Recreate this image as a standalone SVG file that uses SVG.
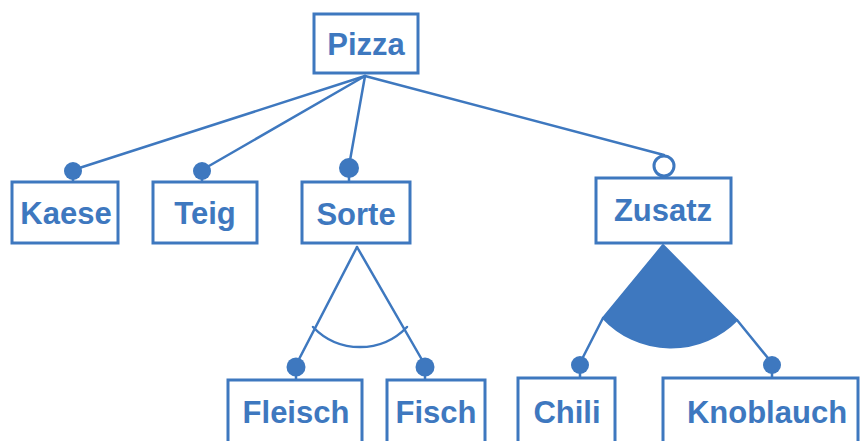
<svg xmlns="http://www.w3.org/2000/svg" width="861" height="441" viewBox="0 0 861 441">
  <style>
    .box { fill: #ffffff; stroke: #3e78bf; stroke-width: 3; }
    .lbl { font-family: "Liberation Sans", Arial, sans-serif; font-weight: bold; font-size: 31px; fill: #3e78bf; text-anchor: middle; }
    .edge { fill: none; stroke: #3e78bf; stroke-width: 2.5; stroke-linecap: round; }
    .mand { fill: #3e78bf; }
    .opt { fill: #ffffff; stroke: #3e78bf; stroke-width: 3; }
    .fill { fill: #3e78bf; stroke: #3e78bf; stroke-width: 2; stroke-linejoin: round; }
  </style>
  <rect width="861" height="441" fill="#ffffff"/>

  <!-- connectors -->
  <g id="connectors">
    <line class="edge" x1="365" y1="76" x2="73" y2="170"/>
    <line class="edge" x1="365" y1="76" x2="202" y2="170"/>
    <line class="edge" x1="365" y1="76" x2="349" y2="166"/>
    <line class="edge" x1="365" y1="76" x2="664" y2="155"/>
    <!-- stems from markers to boxes -->
    <line class="edge" x1="73" y1="172" x2="73" y2="182"/>
    <line class="edge" x1="202" y1="172" x2="202" y2="182"/>
    <line class="edge" x1="349" y1="170" x2="349" y2="182"/>
    <line class="edge" x1="296" y1="369" x2="296" y2="380"/>
    <line class="edge" x1="425" y1="369" x2="425" y2="380"/>
    <line class="edge" x1="580" y1="366" x2="580" y2="378"/>
    <line class="edge" x1="772" y1="366" x2="772" y2="378"/>
    <!-- alternative group under Sorte -->
    <line class="edge" x1="357" y1="247" x2="296" y2="365"/>
    <line class="edge" x1="357" y1="247" x2="425" y2="365"/>
    <path class="edge" d="M313,327 A65,65 0 0 0 407,327"/>
    <!-- or group under Zusatz -->
    <path class="fill" d="M663,245 L603,318 A93,93 0 0 0 737,320 Z"/>
    <line class="edge" x1="603" y1="318" x2="580" y2="363"/>
    <line class="edge" x1="737" y1="320" x2="772" y2="363"/>
    <!-- feature markers -->
    <circle class="mand" cx="73" cy="171" r="9"/>
    <circle class="mand" cx="202" cy="171" r="9"/>
    <circle class="mand" cx="349" cy="168" r="10"/>
    <circle class="opt" cx="664" cy="166" r="10"/>
    <circle class="mand" cx="296" cy="367" r="9.5"/>
    <circle class="mand" cx="425" cy="367" r="9.5"/>
    <circle class="mand" cx="580" cy="365" r="9"/>
    <circle class="mand" cx="772" cy="365" r="9"/>
  </g>

  <g id="pizza">
    <rect class="box" x="314" y="14" width="104" height="59"/>
    <text class="lbl" x="366" y="55">Pizza</text>
  </g>
  <g id="kaese">
    <rect class="box" x="12" y="182" width="106" height="61"/>
    <text class="lbl" x="66" y="224">Kaese</text>
  </g>
  <g id="teig">
    <rect class="box" x="153" y="182" width="104" height="61"/>
    <text class="lbl" x="205" y="224">Teig</text>
  </g>
  <g id="sorte">
    <rect class="box" x="302" y="182" width="108" height="61"/>
    <text class="lbl" x="356" y="225">Sorte</text>
  </g>
  <g id="zusatz">
    <rect class="box" x="596" y="178" width="135" height="65"/>
    <text class="lbl" x="663" y="221">Zusatz</text>
  </g>
  <g id="fleisch">
    <rect class="box" x="228" y="380" width="134" height="70"/>
    <text class="lbl" x="296" y="423">Fleisch</text>
  </g>
  <g id="fisch">
    <rect class="box" x="387" y="380" width="98" height="70"/>
    <text class="lbl" x="436" y="423">Fisch</text>
  </g>
  <g id="chili">
    <rect class="box" x="518" y="378" width="97" height="72"/>
    <text class="lbl" x="567" y="423">Chili</text>
  </g>
  <g id="knoblauch">
    <rect class="box" x="663" y="378" width="195" height="72"/>
    <text class="lbl" x="767" y="423">Knoblauch</text>
  </g>
</svg>
